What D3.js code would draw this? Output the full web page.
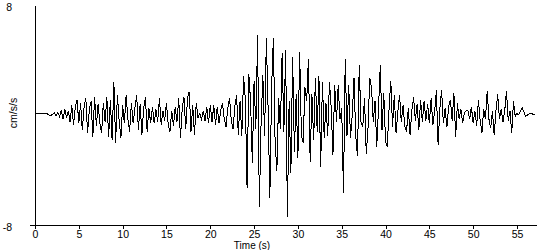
<!DOCTYPE html>
<html>
<head>
<meta charset="utf-8">
<script src="https://cdn.jsdelivr.net/npm/d3@7"></script>
<style>
  body { margin: 0; background: #fff; }
  svg { display: block; font-family: "Liberation Sans", Arial, sans-serif; }
</style>
</head>
<body>
<div id="chart"></div>
<script>
// time step between samples (s)
const sampleStep = 0.2

// acceleration record (cm/s/s), one row per second, 5 samples each
const accel = [
  0.1, 0.1, 0.12, 0.1, 0.1,        // 0
  0.12, 0.1, 0.08, 0.0, -0.05,     // 1
  0.05, 0.15, -0.05, 0.2, -0.1,    // 2
  0.35, -0.3, 0.4, -0.2, 0.3,      // 3
  -0.5, 0.7, -0.7, 0.6, 1.1,       // 4
  -0.6, 0.85, -1.1, 0.6, 1.2,      // 5
  -1.3, 0.4, 1.0, -1.6, 1.3,       // 6
  -0.8, 0.8, -0.6, -1.3, 0.9,      // 7
  -0.5, 1.3, -1.6, 1.1, -1.8,      // 8
  2.4, -2.05, 1.45, -0.4, -1.7,    // 9
  0.7, -0.6, 1.45, -0.3, -1.2,     // 10
  0.9, -0.6, 0.5, 1.45, -1.1,      // 11
  0.8, -1.45, 0.5, 1.3, -1.2,      // 12
  0.5, -0.6, 0.6, -0.6, 0.4,       // 13
  -0.5, 1.2, -0.7, 0.3, -0.4,      // 14
  0.85, -0.7, -1.2, 0.3, -0.8,     // 15
  0.6, -0.5, 1.2, -1.7, 0.5,       // 16
  1.3, -1.0, 1.2, 1.7, -1.2,       // 17
  0.7, -1.45, 0.9, -0.2, 0.1,      // 18
  -0.3, 0.3, -0.4, 0.6, -0.6,      // 19
  0.7, -0.5, 0.7, -0.7, 0.6,       // 20
  -0.6, 0.4, 0.85, -0.3, -0.85,    // 21
  0.5, 1.2, -0.4, -1.0, 0.6,       // 22
  1.45, -1.45, 1.0, -1.5, 2.8,     // 23
  1.2, -5.3, 3.0, 1.0, -3.5,       // 24
  2.5, -1.0, 5.8, -6.7, -0.5,      // 25
  2.9, -1.5, 5.6, 0.5, -6.0,       // 26
  2.0, 5.6, -2.0, -4.1, 1.2,       // 27
  -1.0, 4.5, -1.2, 4.7, -7.4,      // 28
  1.0, -4.2, 4.2, -2.7, 1.5,       // 29
  -3.1, 4.6, -1.5, -2.0, 2.0,      // 30
  1.0, 4.1, -3.4, 1.5, -1.8,       // 31
  2.7, -1.2, 2.8, -3.8, 2.4,       // 32
  -1.7, 0.9, -1.5, 2.4, 0.5,       // 33
  -2.9, 2.2, -0.5, 2.2, -0.3,      // 34
  0.5, -5.7, 4.1, -1.5, 2.2,       // 35
  -1.7, 0.0, 2.7, -1.5, -3.0,      // 36
  3.6, -0.5, -0.9, 1.2, -2.8,      // 37
  -1.0, 2.7, 2.0, -0.5, 1.0,       // 38
  -2.3, 0.5, 3.6, -1.1, 1.6,       // 39
  -1.95, -2.3, 0.4, 2.5, -0.85,    // 40
  1.45, -1.3, 0.2, 1.45, -0.5,     // 41
  0.7, -0.8, -1.2, 0.5, -1.45,     // 42
  0.3, 1.3, -0.4, 0.8, -1.1,       // 43
  1.1, -0.5, 1.0, -0.4, 0.8,       // 44
  -0.6, 1.2, -0.7, 0.2, 1.8,       // 45
  -2.2, 0.5, 1.8, -0.6, 0.5,       // 46
  -0.9, 0.6, 1.1, -0.4, 1.6,       // 47
  -1.6, 0.85, -0.3, 0.4, -0.6,     // 48
  0.2, 0.3, 0.3, -0.3, 0.6,        // 49
  -0.6, 0.3, -0.8, 1.1, -0.4,      // 50
  -1.3, 0.4, -0.3, 1.75, -0.3,     // 51
  -0.95, 0.3, -1.45, 0.3, 1.5,     // 52
  -0.3, 0.4, -0.5, 0.3, 1.75,      // 53
  -0.4, 0.3, -1.3, 1.0, -0.1,      // 54
  0.1, 0.0, 0.3, 0.5, 0.2,         // 55
  -0.1, 0.0, 0.1, 0.15, 0.05,      // 56
  0.0                              // 57
]

const timeDomain = [0, 57.17]
const accelDomain = [-8, 8]
const timeTicks = [0, 5, 10, 15, 20, 25, 30, 35, 40, 45, 50, 55]
const accelTicks = [-8, 8]
const xTitle = "Time (s)"
const yTitle = "cm/s/s"

class Seismogram {
  constructor(_parentElement) {
    this.parentElement = _parentElement
    this.initVis()
  }

  initVis() {
    const vis = this

    vis.MARGIN = { top: 5, right: 14, bottom: 25, left: 35 }
    vis.WIDTH = 550 - vis.MARGIN.left - vis.MARGIN.right
    vis.HEIGHT = 250 - vis.MARGIN.top - vis.MARGIN.bottom

    vis.svg = d3.select(vis.parentElement)
      .append("svg")
      .attr("width", 550)
      .attr("height", 250)

    vis.g = vis.svg.append("g")
      .attr("transform", `translate(${vis.MARGIN.left}, ${vis.MARGIN.top})`)

    vis.x = d3.scaleLinear().domain(timeDomain).range([0, vis.WIDTH])
    vis.y = d3.scaleLinear().domain(accelDomain).range([vis.HEIGHT, 0])

    vis.data = accel.map((v, i) => ({ t: i * sampleStep, v: v }))

    vis.updateVis()
  }

  updateVis() {
    const vis = this

    const line = d3.line()
      .x(d => vis.x(d.t))
      .y(d => vis.y(d.v))

    // the original trace is drawn without smoothing
    vis.g.append("path")
      .datum(vis.data)
      .attr("fill", "none")
      .attr("stroke", "#000")
      .attr("stroke-width", 1)
      .attr("shape-rendering", "crispEdges")
      .attr("d", line)

    // x axis
    const xAxis = vis.g.append("g")
      .attr("transform", `translate(0, ${vis.HEIGHT})`)
      .call(d3.axisBottom(vis.x).tickValues(timeTicks)
        .tickSizeInner(4).tickSizeOuter(0).tickPadding(2))
    xAxis.selectAll("text")
      .attr("font-size", "10.5px")
      .attr("fill", "#000")
      .attr("font-family", "Liberation Sans, Arial, sans-serif")

    // y axis, plain hyphen for the minus like the original
    const yAxis = vis.g.append("g")
      .call(d3.axisLeft(vis.y).tickValues(accelTicks)
        .tickFormat(d => String(d))
        .tickSizeInner(5).tickSizeOuter(0).tickPadding(18))
    yAxis.selectAll(".tick line").filter(d => d > 0).remove()
    yAxis.selectAll("text")
      .attr("font-size", "10.5px")
      .attr("fill", "#000")
      .attr("dy", "0.55em")
      .attr("font-family", "Liberation Sans, Arial, sans-serif")

    vis.g.selectAll(".domain, .tick line")
      .attr("stroke", "#000")
      .attr("shape-rendering", "crispEdges")

    // titles
    vis.svg.append("text")
      .attr("x", 252)
      .attr("y", 249)
      .attr("text-anchor", "middle")
      .attr("font-size", "10px")
      .text(xTitle)

    vis.svg.append("text")
      .attr("transform", "translate(13, 113) rotate(-90)")
      .attr("dy", "0.35em")
      .attr("text-anchor", "middle")
      .attr("font-size", "10.5px")
      .text(yTitle)
  }
}

new Seismogram("#chart")
</script>
</body>
</html>
